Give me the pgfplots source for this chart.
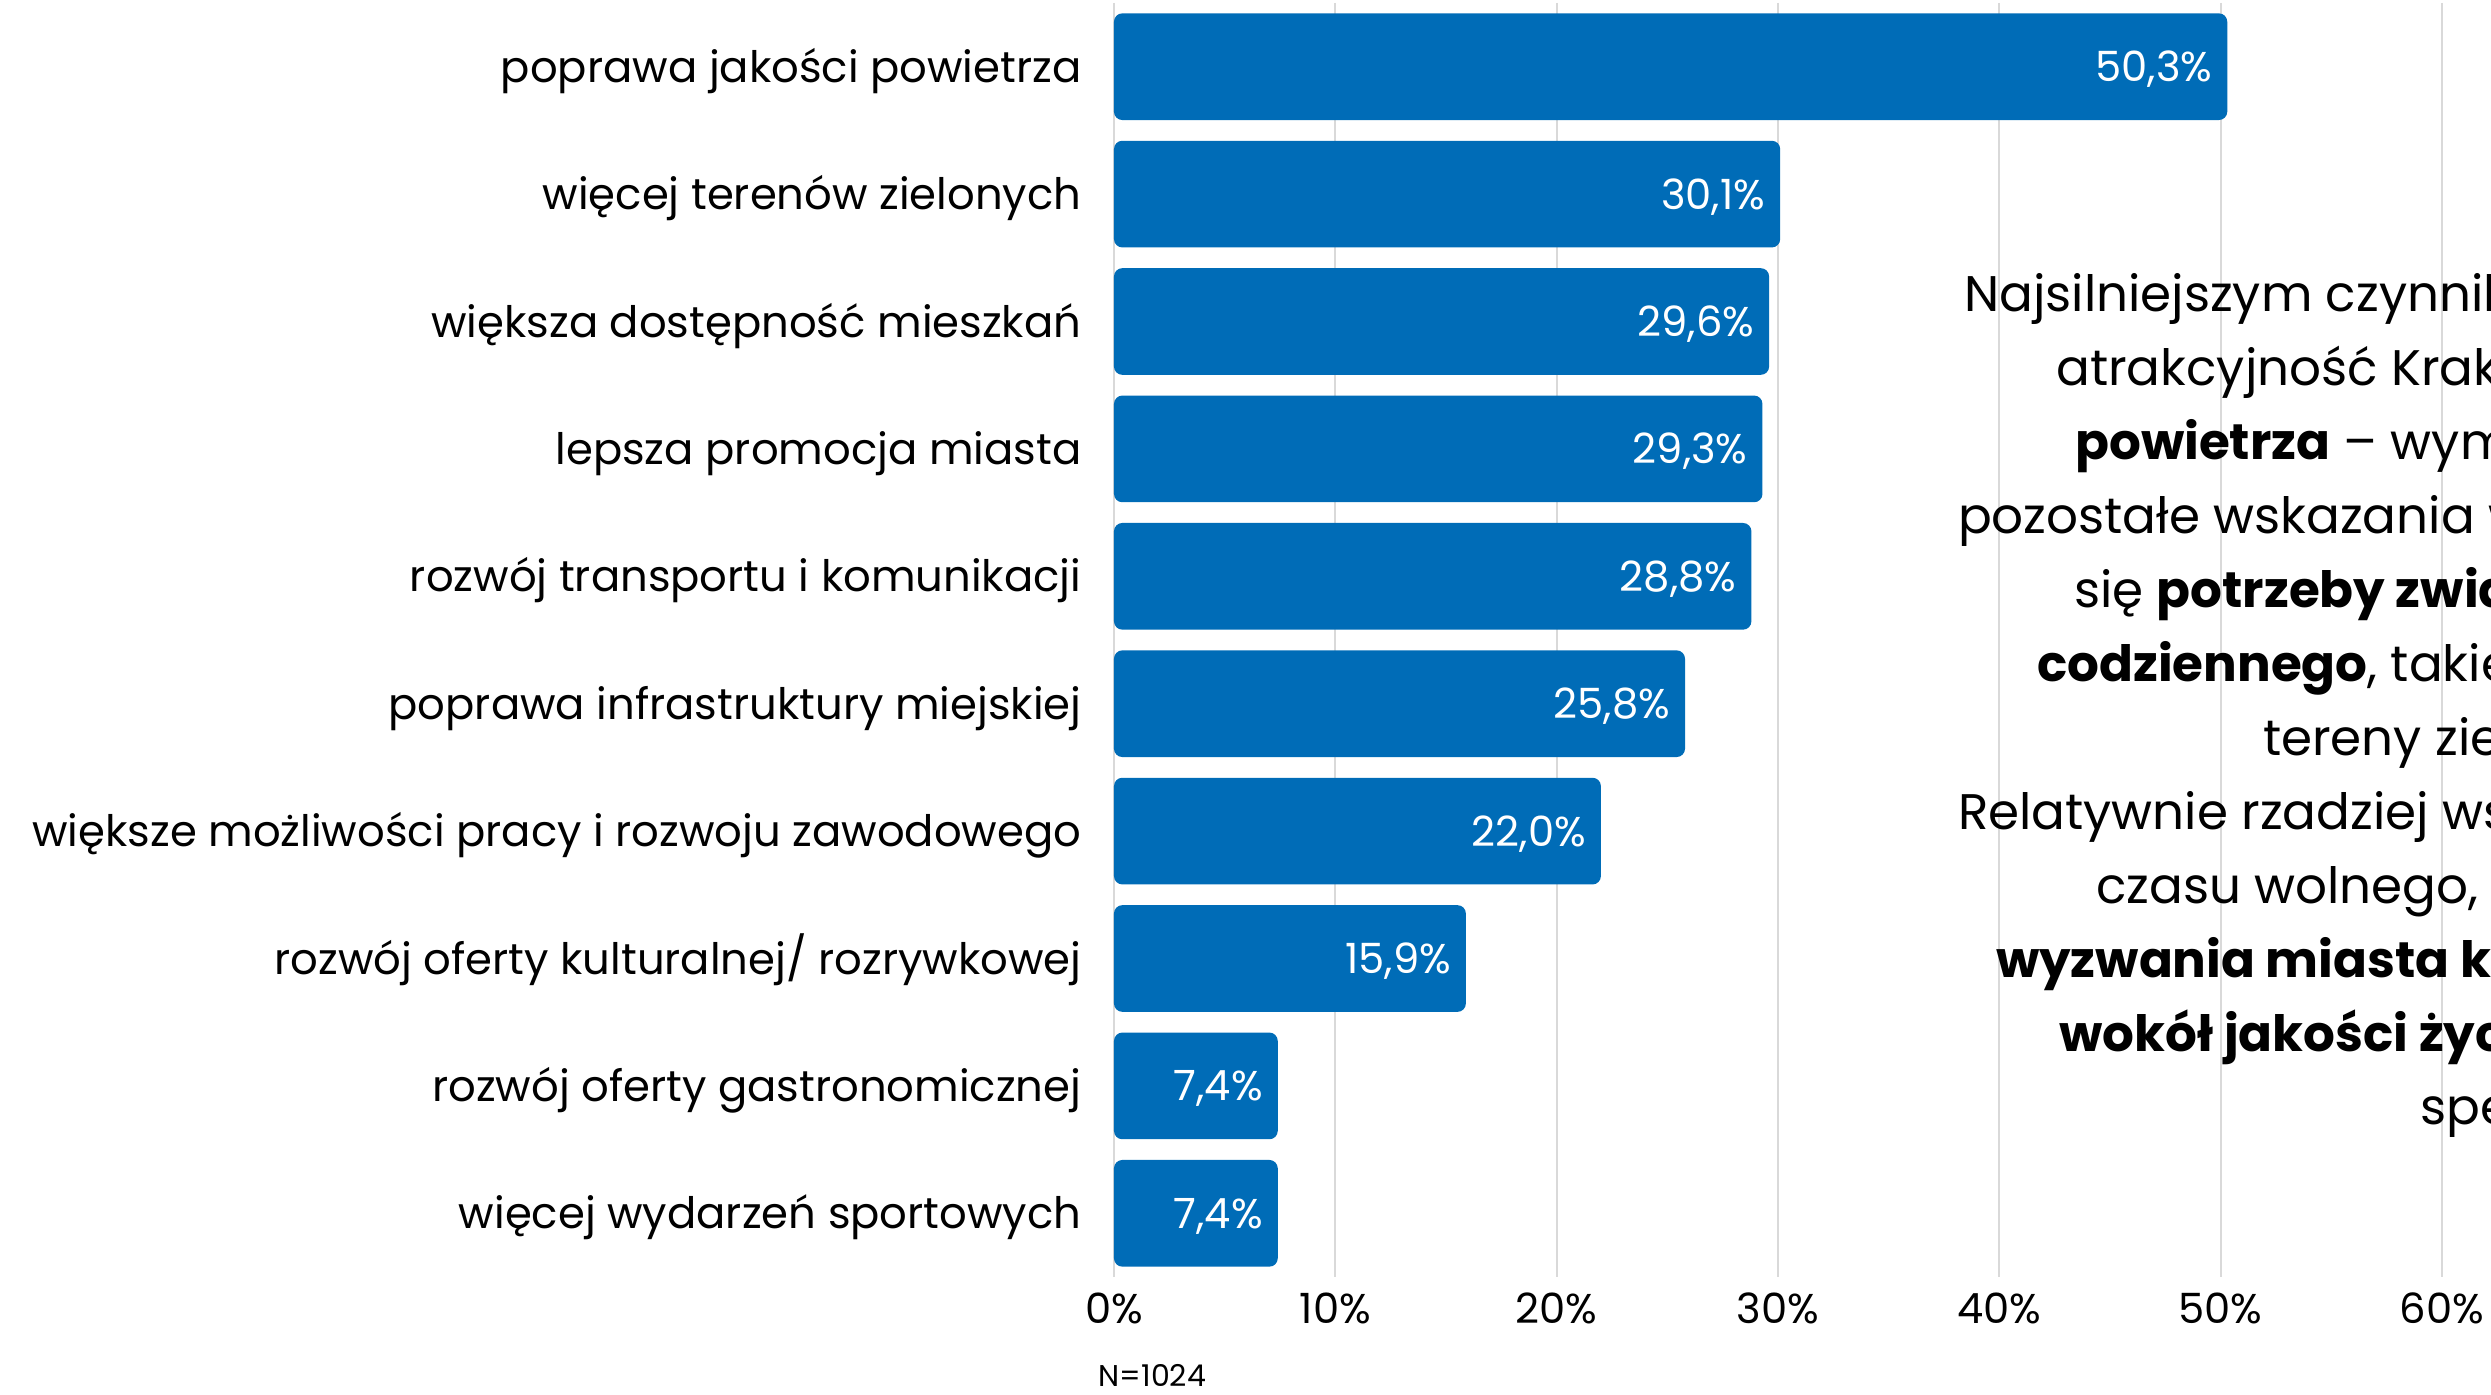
\documentclass[border=0pt]{standalone}
\usepackage{fontspec}
\setmainfont{Poppins}
\usepackage{pgfplots}
\pgfplotsset{compat=1.18}
\definecolor{barblue}{HTML}{006CB7}
\definecolor{gridgray}{HTML}{D9D9D9}
\begin{document}
\begin{tikzpicture}
\begin{axis}[
  scale only axis, width=398.4pt, height=382.2pt,
  xbar, bar width=32pt,
  xmin=0, xmax=60, ymin=-0.5, ymax=9.5, y dir=reverse,
  axis line style={draw=none}, major tick length=0pt,
  xtick={0,10,...,60}, xticklabels={0\%,10\%,20\%,30\%,40\%,50\%,60\%},
  ytick={0,...,9},
  yticklabels={poprawa jakości powietrza, więcej terenów zielonych, większa dostępność mieszkań, lepsza promocja miasta, rozwój transportu i komunikacji, poprawa infrastruktury miejskiej, większe możliwości pracy i rozwoju zawodowego, rozwój oferty kulturalnej/ rozrywkowej, rozwój oferty gastronomicznej, więcej wydarzeń sportowych},
  xmajorgrids, grid style={gridgray, line width=0.6pt},
  yticklabel style={font=\fontsize{13}{15}\selectfont, anchor=base east, inner sep=0pt, xshift=-9.6pt, yshift=-4.7pt},
  xticklabel style={font=\fontsize{12.5}{14}\selectfont, anchor=base, inner sep=0pt, yshift=-14pt},
  point meta=explicit symbolic,
  nodes near coords,
  every node near coord/.append style={anchor=base east, text=white, inner sep=0pt, xshift=-4.3pt, yshift=-4.5pt, font=\fontsize{12.5}{14}\selectfont},
  clip=false,
]
\addplot[fill=barblue, draw=none, rounded corners=2.5pt, bar shift=0pt] coordinates {
  (50.3,0) [50,3\%]
  (30.1,1) [30,1\%]
  (29.6,2) [29,6\%]
  (29.3,3) [29,3\%]
  (28.8,4) [28,8\%]
  (25.8,5) [25,8\%]
  (22.0,6) [22,0\%]
  (15.9,7) [15,9\%]
  (7.4,8) [7,4\%]
  (7.4,9) [7,4\%]
};
\coordinate (O) at (rel axis cs:0,0);
\end{axis}
\node[anchor=base, inner sep=0pt, font=\fontsize{9}{10}\selectfont] at ([xshift=11.5pt,yshift=-32.7pt]O) {N=1024};
\begin{scope}[every node/.style={anchor=base west, inner sep=0pt, font=\fontsize{15}{18}\selectfont}]
\node at ([xshift=254.9pt,yshift={(1277-312-73.9*0)*0.3pt}]O) {Najsilniejszym czynnikiem zwiększającym};
\node at ([xshift=282.5pt,yshift={(1277-312-73.9*1)*0.3pt}]O) {atrakcyjność Krakowa jest poprawa jakości};
\node at ([xshift=288.2pt,yshift={(1277-312-73.9*2)*0.3pt}]O) {\textbf{powietrza} – wymieniana przez połowę badanych. Wśród};
\node at ([xshift=253.0pt,yshift={(1277-312-73.9*3)*0.3pt}]O) {pozostałe wskazania wyraźnie zaznaczają};
\node at ([xshift=287.8pt,yshift={(1277-312-73.9*4)*0.3pt}]O) {się \textbf{potrzeby związane z komfortem życia}};
\node at ([xshift=276.8pt,yshift={(1277-312-73.9*5)*0.3pt}]O) {\textbf{codziennego}, takie jak dostępność mieszkań czy};
\node at ([xshift=344.5pt,yshift={(1277-312-73.9*6)*0.3pt}]O) {tereny zielone.};
\node at ([xshift=253.0pt,yshift={(1277-312-73.9*7)*0.3pt}]O) {Relatywnie rzadziej wskazywano ofertę};
\node at ([xshift=294.5pt,yshift={(1277-312-73.9*8)*0.3pt}]O) {czasu wolnego, co sugeruje, że kluczowe};
\node at ([xshift=264.4pt,yshift={(1277-312-73.9*9)*0.3pt}]O) {\textbf{wyzwania miasta koncentrują się}};
\node at ([xshift=283.5pt,yshift={(1277-312-73.9*10)*0.3pt}]O) {\textbf{wokół jakości życia}, a nie};
\node at ([xshift=391.7pt,yshift={(1277-312-73.9*11)*0.3pt}]O) {spędzania czasu.};
\end{scope}
\pgfresetboundingbox
\path ([xshift=-334.2pt,yshift=-35.1pt]O) rectangle ([xshift=413.1pt,yshift=383.1pt]O);
\end{tikzpicture}
\end{document}
